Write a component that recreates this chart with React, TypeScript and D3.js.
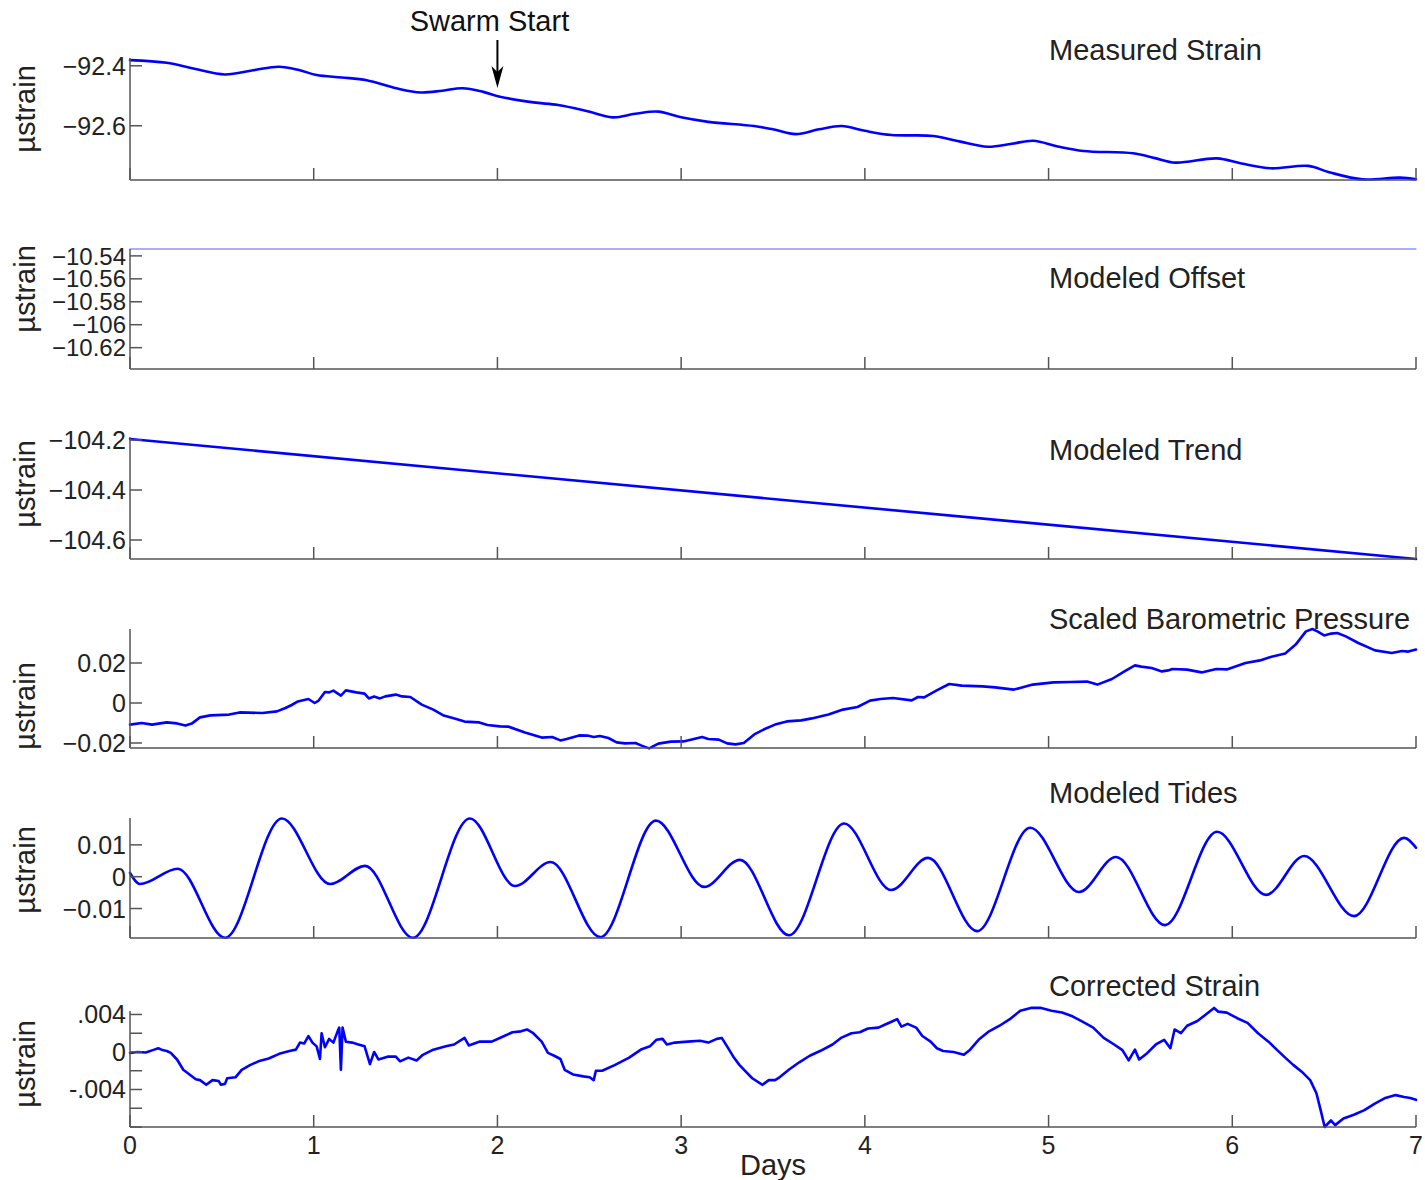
import React from "react";
import * as d3 from "d3";

// x axis (days)
const dayTicks: number[] = [0, 1, 2, 3, 4, 5, 6, 7];

// [day, ustrain] pairs
const measuredStrain: [number, number][] = [
  [0, -92.381], [0.2, -92.39], [0.35, -92.41], [0.517, -92.429], [0.67, -92.415], [0.81, -92.403],
  [0.92, -92.414], [1.016, -92.431], [1.152, -92.439], [1.288, -92.448], [1.45, -92.475], [1.583, -92.489],
  [1.7, -92.483], [1.81, -92.475], [1.923, -92.487], [2.014, -92.503], [2.196, -92.522], [2.33, -92.531],
  [2.48, -92.55], [2.627, -92.572], [2.75, -92.56], [2.876, -92.553], [3.0, -92.572], [3.148, -92.587],
  [3.397, -92.601], [3.5, -92.612], [3.624, -92.628], [3.75, -92.612], [3.874, -92.601], [4.0, -92.617],
  [4.146, -92.631], [4.373, -92.634], [4.52, -92.653], [4.668, -92.67], [4.8, -92.66], [4.917, -92.65],
  [5.05, -92.669], [5.19, -92.684], [5.46, -92.692], [5.58, -92.708], [5.69, -92.723], [5.916, -92.709],
  [6.05, -92.726], [6.21, -92.742], [6.414, -92.734], [6.527, -92.755], [6.709, -92.779], [6.913, -92.773],
  [7.0, -92.779],
];

const modeledOffset: [number, number][] = [[0, -10.534], [7, -10.534]];

const modeledTrend: [number, number][] = [[0, -104.196], [7, -104.676]];

const baroPressure: [number, number][] = [
  [0, -0.0108], [0.064, -0.01], [0.12, -0.0108], [0.2, -0.0097], [0.256, -0.0102], [0.302, -0.0113],
  [0.336, -0.0103], [0.381, -0.0072], [0.438, -0.0062], [0.54, -0.0058], [0.597, -0.0047], [0.721, -0.005],
  [0.8, -0.0042], [0.846, -0.0025], [0.88, -0.001], [0.914, 0.0008], [0.971, 0.002], [1.005, 0],
  [1.027, 0.0012], [1.061, 0.0055], [1.084, 0.0053], [1.107, 0.0062], [1.148, 0.0037], [1.175, 0.0063],
  [1.232, 0.0053], [1.277, 0.0047], [1.3, 0.0023], [1.329, 0.0032], [1.36, 0.0023], [1.39, 0.0033],
  [1.447, 0.0042], [1.481, 0.0033], [1.526, 0.003], [1.588, -0.0008], [1.651, -0.0033], [1.708, -0.0063],
  [1.776, -0.008], [1.821, -0.0093], [1.901, -0.0097], [1.946, -0.011], [2.014, -0.0117], [2.059, -0.0118],
  [2.15, -0.0147], [2.241, -0.0173], [2.298, -0.017], [2.343, -0.0187], [2.377, -0.018], [2.445, -0.0162],
  [2.49, -0.0163], [2.524, -0.017], [2.558, -0.0165], [2.604, -0.0175], [2.649, -0.0197], [2.694, -0.0202],
  [2.751, -0.02], [2.785, -0.0213], [2.826, -0.0227], [2.876, -0.0203], [2.944, -0.0193], [3.012, -0.0192],
  [3.058, -0.0182], [3.114, -0.017], [3.148, -0.018], [3.205, -0.0183], [3.25, -0.0202], [3.296, -0.0207],
  [3.341, -0.02], [3.398, -0.0157], [3.455, -0.013], [3.511, -0.0108], [3.575, -0.0092], [3.654, -0.0087],
  [3.711, -0.0077], [3.802, -0.0058], [3.881, -0.0033], [3.96, -0.002], [4.028, 0.0012], [4.085, 0.002],
  [4.153, 0.0025], [4.255, 0.0013], [4.289, 0.003], [4.323, 0.0028], [4.391, 0.0063], [4.459, 0.0095],
  [4.528, 0.0087], [4.641, 0.0083], [4.709, 0.0078], [4.811, 0.0067], [4.914, 0.0092], [5.027, 0.0103],
  [5.118, 0.0105], [5.209, 0.0107], [5.266, 0.0092], [5.345, 0.012], [5.413, 0.0158], [5.47, 0.0188],
  [5.504, 0.0182], [5.561, 0.0175], [5.617, 0.0158], [5.651, 0.0163], [5.674, 0.017], [5.754, 0.0167],
  [5.833, 0.0153], [5.913, 0.017], [5.97, 0.0168], [6.072, 0.02], [6.151, 0.0213], [6.208, 0.023],
  [6.288, 0.0247], [6.345, 0.0292], [6.401, 0.0358], [6.436, 0.037], [6.463, 0.0358], [6.5, 0.0338],
  [6.538, 0.0347], [6.572, 0.035], [6.618, 0.0333], [6.686, 0.03], [6.777, 0.0263], [6.868, 0.025],
  [6.924, 0.026], [6.958, 0.0257], [7.0, 0.0267],
];

const modeledTides: [number, number][] = [
  [0, 0.0012], [0.054, -0.0023], [0.26, 0.0025], [0.517, -0.0192], [0.827, 0.0183], [1.089, -0.0023],
  [1.28, 0.0034], [1.54, -0.0192], [1.85, 0.0183], [2.096, -0.0029], [2.29, 0.0046], [2.56, -0.019],
  [2.863, 0.0176], [3.125, -0.0032], [3.32, 0.0053], [3.587, -0.0184], [3.887, 0.0167], [4.143, -0.0042],
  [4.344, 0.0059], [4.611, -0.0171], [4.9, 0.0154], [5.166, -0.0048], [5.367, 0.0062], [5.634, -0.0152],
  [5.917, 0.0141], [6.184, -0.0057], [6.391, 0.0065], [6.663, -0.0124], [6.935, 0.0122], [7.0, 0.0091],
];

const correctedStrain: [number, number][] = [
  [0, -0.0001], [0.041, 0], [0.086, -0.00005], [0.132, 0.00025], [0.154, 0.0004], [0.177, 0.0002],
  [0.2, 0.0001], [0.222, -0.0001], [0.256, -0.0008], [0.29, -0.0019], [0.324, -0.0024], [0.358, -0.0029],
  [0.381, -0.003], [0.415, -0.0035], [0.449, -0.003], [0.483, -0.0031], [0.495, -0.0035], [0.517, -0.0034],
  [0.529, -0.0028], [0.574, -0.0027], [0.608, -0.0019], [0.653, -0.0014], [0.699, -0.001], [0.755, -0.0007],
  [0.812, -0.0002], [0.868, 0.0001], [0.903, 0.00025], [0.925, 0.001], [0.948, 0.0009], [0.971, 0.0017],
  [0.993, 0.001], [1.016, 0.0006], [1.034, -0.00075], [1.043, 0.002], [1.061, 0.0005], [1.084, 0.0014],
  [1.107, 0.001], [1.13, 0.0022], [1.139, 0.0026], [1.148, -0.0019], [1.157, 0.0026], [1.175, 0.0011],
  [1.209, 0.001], [1.243, 0.0008], [1.277, 0.0006], [1.306, -0.0013], [1.329, 0], [1.352, -0.0008],
  [1.402, -0.0005], [1.447, -0.0005], [1.47, -0.001], [1.515, -0.0006], [1.56, -0.0009], [1.594, -0.0003],
  [1.651, 0.00025], [1.719, 0.0006], [1.764, 0.0008], [1.821, 0.0015], [1.844, 0.0007], [1.901, 0.0011],
  [1.969, 0.0011], [2.025, 0.0016], [2.082, 0.0021], [2.128, 0.0022], [2.161, 0.0024], [2.195, 0.002],
  [2.241, 0.0011], [2.275, -0.0001], [2.309, -0.0004], [2.343, -0.00075], [2.366, -0.0019], [2.411, -0.0024],
  [2.468, -0.0026], [2.502, -0.0027], [2.524, -0.003], [2.536, -0.002], [2.57, -0.002], [2.638, -0.0014],
  [2.717, -0.0006], [2.785, 0.0003], [2.83, 0.0006], [2.865, 0.0013], [2.899, 0.0014], [2.922, 0.0008],
  [2.967, 0.001], [3.035, 0.0011], [3.103, 0.0012], [3.148, 0.001], [3.194, 0.0014], [3.221, 0.0015],
  [3.25, 0.0006], [3.284, -0.0005], [3.318, -0.0014], [3.352, -0.0021], [3.387, -0.0028], [3.443, -0.0035],
  [3.477, -0.003], [3.511, -0.003], [3.529, -0.0028], [3.586, -0.0019], [3.643, -0.0011], [3.7, -0.0004],
  [3.756, 0.0001], [3.824, 0.0008], [3.87, 0.0015], [3.927, 0.002], [3.972, 0.0021], [4.017, 0.0025],
  [4.074, 0.0026], [4.108, 0.0029], [4.142, 0.0032], [4.176, 0.0035], [4.199, 0.0027], [4.233, 0.003],
  [4.279, 0.0026], [4.313, 0.0017], [4.358, 0.0011], [4.392, 0.0004], [4.426, 0.0001], [4.483, 0],
  [4.539, -0.0003], [4.573, 0.00025], [4.619, 0.0013], [4.676, 0.0022], [4.733, 0.0028], [4.789, 0.0035],
  [4.846, 0.0044], [4.903, 0.0047], [4.96, 0.0047], [5.016, 0.0044], [5.073, 0.0042], [5.13, 0.0038],
  [5.187, 0.0032], [5.243, 0.0026], [5.3, 0.0015], [5.357, 0.0008], [5.402, 0.0002], [5.436, -0.0009],
  [5.47, 0.00025], [5.493, -0.0008], [5.538, -0.0001], [5.584, 0.0008], [5.629, 0.0013], [5.663, 0.0004],
  [5.686, 0.0024], [5.72, 0.002], [5.754, 0.0028], [5.81, 0.0033], [5.856, 0.004], [5.901, 0.0047],
  [5.924, 0.0043], [5.97, 0.0042], [6.027, 0.0036], [6.083, 0.0031], [6.14, 0.002], [6.197, 0.0011],
  [6.242, 0.00025], [6.288, -0.0006], [6.333, -0.0014], [6.378, -0.0021], [6.424, -0.003], [6.458, -0.0044],
  [6.481, -0.0062], [6.503, -0.008], [6.537, -0.0073], [6.56, -0.0078], [6.605, -0.0071], [6.662, -0.0067],
  [6.719, -0.0062], [6.776, -0.0055], [6.833, -0.0049], [6.889, -0.0046], [6.935, -0.0048], [6.969, -0.0049],
  [7.0, -0.0051],
];

// y tick values and labels
const strainTicks: number[] = [-92.4, -92.6];
const strainLabels: string[] = ["\u221292.4", "\u221292.6"];
const offsetTicks: number[] = [-10.54, -10.56, -10.58, -10.6, -10.62];
const offsetLabels: string[] = ["\u221210.54", "\u221210.56", "\u221210.58", "\u2212106", "\u221210.62"];
const trendTicks: number[] = [-104.2, -104.4, -104.6];
const trendLabels: string[] = ["\u2212104.2", "\u2212104.4", "\u2212104.6"];
const baroTicks: number[] = [0.02, 0, -0.02];
const baroLabels: string[] = ["0.02", "0", "\u22120.02"];
const tideTicks: number[] = [0.01, 0, -0.01];
const tideLabels: string[] = ["0.01", "0", "\u22120.01"];
const correctedTicks: number[] = [0.004, 0.002, 0, -0.002, -0.004, -0.006, -0.008];
const correctedLabels: string[] = [".004", "", "0", "", "-.004", "", ""];

const width = 1425;
const height = 1180;
const marginLeft = 130;
const marginRight = 9;
const tickLen = 12;
const font = "'Liberation Sans', Arial, Helvetica, sans-serif";

type Panel = {
  title: string;
  titleY: number;
  data: [number, number][];
  top: number;
  bottom: number;
  domain: [number, number];
  ticks: number[];
  labels: string[];
  labelSize: number;
  labelY: number;
  curve: d3.CurveFactory;
  stroke: string;
  strokeWidth: number;
};

const App: React.FC = () => {
  const xScale = d3.scaleLinear().domain([0, 7]).range([marginLeft, width - marginRight]);

  const panels: Panel[] = [
    { title: "Measured Strain", titleY: 60, data: measuredStrain, top: 58, bottom: 180, domain: [-92.781, -92.374],
      ticks: strainTicks, labels: strainLabels, labelSize: 25, labelY: 109, curve: d3.curveCatmullRom, stroke: "#0000ff", strokeWidth: 2.6 },
    { title: "Modeled Offset", titleY: 288, data: modeledOffset, top: 249, bottom: 369, domain: [-10.6386, -10.534],
      ticks: offsetTicks, labels: offsetLabels, labelSize: 24, labelY: 289, curve: d3.curveLinear, stroke: "#5c5cff", strokeWidth: 1.2 },
    { title: "Modeled Trend", titleY: 460, data: modeledTrend, top: 437, bottom: 559, domain: [-104.676, -104.188],
      ticks: trendTicks, labels: trendLabels, labelSize: 25, labelY: 484, curve: d3.curveLinear, stroke: "#0000ff", strokeWidth: 2.6 },
    { title: "Scaled Barometric Pressure", titleY: 629, data: baroPressure, top: 629, bottom: 748, domain: [-0.0225, 0.037],
      ticks: baroTicks, labels: baroLabels, labelSize: 25, labelY: 706, curve: d3.curveLinear, stroke: "#0000ff", strokeWidth: 2.6 },
    { title: "Modeled Tides", titleY: 803, data: modeledTides, top: 818, bottom: 938, domain: [-0.01926, 0.01844],
      ticks: tideTicks, labels: tideLabels, labelSize: 25, labelY: 870, curve: d3.curveMonotoneX, stroke: "#0000ff", strokeWidth: 2.6 },
    { title: "Corrected Strain", titleY: 996, data: correctedStrain, top: 1011, bottom: 1127, domain: [-0.008, 0.00437],
      ticks: correctedTicks, labels: correctedLabels, labelSize: 25, labelY: 1064, curve: d3.curveLinear, stroke: "#0000ff", strokeWidth: 2.6 },
  ];

  const arrowX = xScale(2);

  return (
    <svg width={width} height={height} style={{ position: "absolute", left: 0, top: 0, background: "#fff" }}
      fontFamily={font}>
      {panels.map((p, i) => {
        const yScale = d3.scaleLinear().domain(p.domain).range([p.bottom, p.top]);
        const line = d3.line<[number, number]>()
          .x(d => xScale(d[0]))
          .y(d => yScale(d[1]))
          .curve(p.curve);
        return (
          <g key={i}>
            {/* data */}
            <path d={line(p.data) ?? ""} fill="none" stroke={p.stroke} strokeWidth={p.strokeWidth}
              strokeLinejoin="round" strokeLinecap="round" />
            {/* left axis */}
            <line x1={marginLeft} x2={marginLeft} y1={p.top} y2={p.bottom} stroke="#555" strokeWidth={1.5} />
            {p.ticks.map((t, j) => (
              <g key={j}>
                <line x1={marginLeft} x2={marginLeft + tickLen} y1={yScale(t)} y2={yScale(t)} stroke="#555" strokeWidth={1.5} />
                <text x={marginLeft - 4} y={yScale(t)} dy="0.36em" textAnchor="end" fontSize={p.labelSize} fill="#222">
                  {p.labels[j]}
                </text>
              </g>
            ))}
            {/* bottom axis */}
            <line x1={marginLeft} x2={width - marginRight} y1={p.bottom} y2={p.bottom} stroke="#555" strokeWidth={1.5} />
            {dayTicks.map(d => (
              <line key={d} x1={xScale(d)} x2={xScale(d)} y1={p.bottom} y2={p.bottom - tickLen} stroke="#555" strokeWidth={1.5} />
            ))}
            {/* y label */}
            <text transform={`translate(35,${p.labelY}) rotate(-90)`} textAnchor="middle" fontSize={29} fill="#222">
              µstrain
            </text>
            {/* title */}
            <text x={1049} y={p.titleY} fontSize={29} fill="#222">{p.title}</text>
          </g>
        );
      })}

      {/* x tick labels */}
      {dayTicks.map(d => (
        <text key={d} x={xScale(d)} y={1154} textAnchor="middle" fontSize={25} fill="#222">{d}</text>
      ))}
      <text x={(marginLeft + width - marginRight) / 2} y={1175} textAnchor="middle" fontSize={29} fill="#222">Days</text>

      {/* Swarm start annotation */}
      <text x={arrowX - 8} y={31} textAnchor="middle" fontSize={29} fill="#111">Swarm Start</text>
      <line x1={arrowX} x2={arrowX} y1={40} y2={74} stroke="#000" strokeWidth={2} />
      <path d={`M${arrowX},88 L${arrowX - 6},66 L${arrowX},72 L${arrowX + 6},66 Z`} fill="#000" />
    </svg>
  );
};

export default App;
